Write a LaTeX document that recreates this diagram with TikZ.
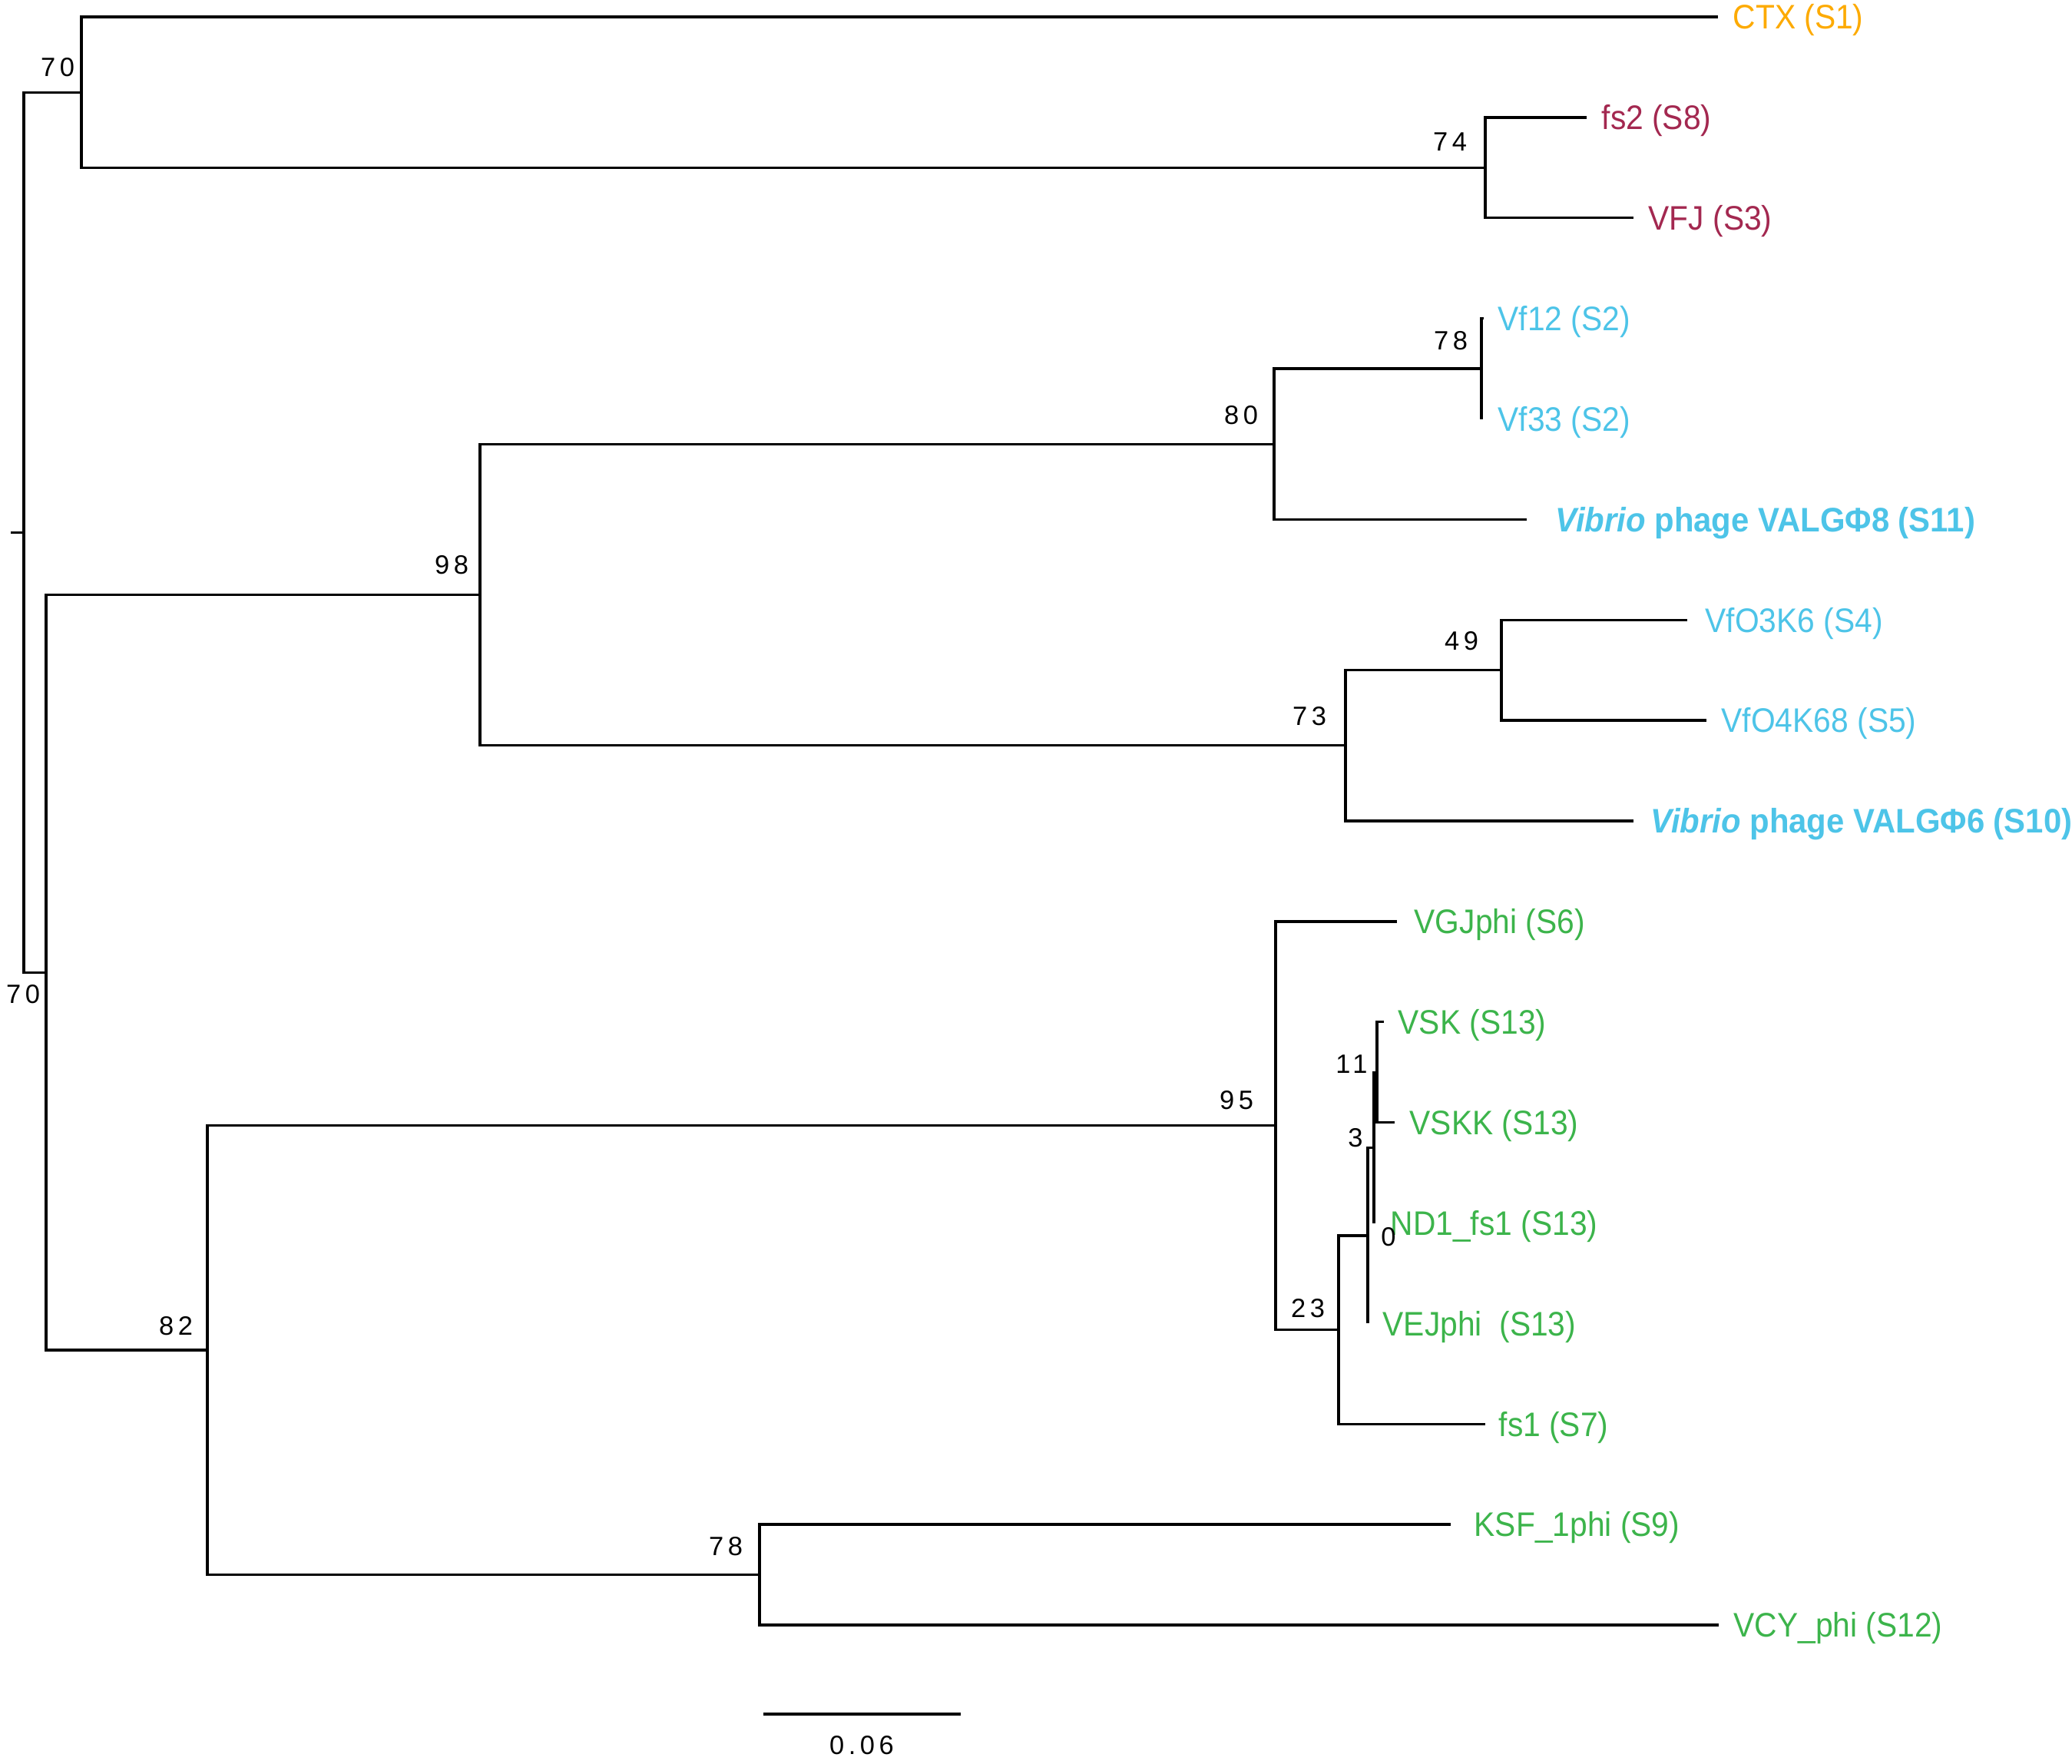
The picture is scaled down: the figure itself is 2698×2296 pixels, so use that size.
\documentclass[tikz,border=0pt]{standalone}
\usepackage{fontspec}
\usepackage{xcolor}
\usepackage{tikz}
\newfontfamily\tipfont{Liberation Sans}[FakeStretch=0.92,
  BoldFeatures={FakeStretch=0.945}, BoldItalicFeatures={FakeStretch=0.945}]
\newfontfamily\bootfont{Liberation Sans}[LetterSpace=16]
\definecolor{ctxorange}{RGB}{253,170,0}
\definecolor{fsred}{RGB}{163,40,80}
\definecolor{vfblue}{RGB}{77,196,232}
\definecolor{vsgreen}{RGB}{60,180,75}
\tikzset{
  branch/.style={line width=0.95pt, line join=miter},
  tiplabel/.style={anchor=base west, inner sep=0pt, yshift=-4.5pt, font=\tipfont\fontsize{12.6pt}{15pt}\selectfont},
  boot/.style={inner sep=0pt, font=\bootfont\fontsize{9.8pt}{11pt}\selectfont}
}

\begin{document}
\begin{tikzpicture}[x=0.01cm, y=-0.01cm]
\useasboundingbox (0,0) rectangle (2698,2296);
% tips, top to bottom
\foreach \tx/\gap/\col/\txt [count=\i from 0] in {
  2237/19/ctxorange/CTX (S1),
  2066/19/fsred/fs2 (S8),
  2127/19/fsred/VFJ (S3),
  1932/18/vfblue/Vf12 (S2),
  1929/21/vfblue/Vf33 (S2),
  1988/37/vfblue/{\textbf{\textit{Vibrio} phage VALGΦ8 (S11)}},
  2197/23/vfblue/VfO3K6 (S4),
  2222/19/vfblue/VfO4K68 (S5),
  2127/22/vfblue/{\textbf{\textit{Vibrio} phage VALGΦ6 (S10)}},
  1819/22/vsgreen/VGJphi (S6),
  1802/18/vsgreen/VSK (S13),
  1816/19/vsgreen/VSKK (S13),
  1789/21/vsgreen/ND1\_fs1 (S13),
  1781/19/vsgreen/VEJphi~ (S13),
  1934/17/vsgreen/fs1 (S7),
  1889/30/vsgreen/KSF\_1phi (S9),
  2238/19/vsgreen/VCY\_phi (S12)}{
  \coordinate (l\i) at (\tx,{22+130.875*\i});
  \node[tiplabel, text=\col, xshift=\gap*0.01cm] (lab\i) at (l\i) {\txt};
}
% inner nodes
\coordinate (n74) at (1934,218.3);
\coordinate (nA) at (106,120.2);
\coordinate (n78a) at (1929,480);
\coordinate (n80) at (1659,578.2);
\coordinate (n49) at (1955,872.7);
\coordinate (n73) at (1752,970.8);
\coordinate (n98) at (625,774.5);
\coordinate (n11) at (1793,1396.2);
\coordinate (n3) at (1789,1494.3);
\coordinate (n0) at (1781,1608.9);
\coordinate (n23) at (1743,1731.6);
\coordinate (n95) at (1661,1465.7);
\coordinate (n78b) at (989,2050.5);
\coordinate (n82) at (270,1758.1);
\coordinate (nB) at (60,1266.3);
\coordinate (root) at (31,693.2);
\coordinate (stub) at (14,693.2);
\draw[branch] (l1) -| (n74) |- (l2);
\draw[branch] (l0) -| (nA) |- (n74);
\draw[branch] (l3) -| (n78a) |- (l4);
\draw[branch] (n78a) -| (n80) |- (l5);
\draw[branch] (l6) -| (n49) |- (l7);
\draw[branch] (n49) -| (n73) |- (l8);
\draw[branch] (n80) -| (n98) |- (n73);
\draw[branch] (l10) -| (n11) |- (l11);
\draw[branch] (n11) -| (n3) |- (l12);
\draw[branch] (n3) -| (n0) |- (l13);
\draw[branch] (n0) -| (n23) |- (l14);
\draw[branch] (l9) -| (n95) |- (n23);
\draw[branch] (l15) -| (n78b) |- (l16);
\draw[branch] (n95) -| (n82) |- (n78b);
\draw[branch] (n98) -| (nB) |- (n82);
\draw[branch] (nA) -| (root) |- (nB);
\draw[branch] (root) -- (stub);
% bootstrap values
\foreach \nd/\dx/\dy/\val in {nA/-31/-33/70, n74/-46/-34/74, n78a/-40/-36/78,
  n80/-43/-38/80, n98/-37/-39/98, n73/-47/-38/73, n49/-52/-38/49,
  nB/-30/28/70, n82/-41/-32/82, n95/-51/-33/95, n23/-40/-28/23,
  n11/-33/-11/11, n3/-24/-13/3, n0/27/2/0, n78b/-44/-37/78}
  \node[boot] (b\nd) at ([shift={(\dx,\dy)}]\nd) {\val};
% scale bar
\coordinate (sb0) at (994,2232);
\coordinate (sb1) at (1251,2232);
\draw[branch] (sb0) -- (sb1);
\node[boot] (sblab) at (1122,2273) {0.06};
\end{tikzpicture}
\end{document}
